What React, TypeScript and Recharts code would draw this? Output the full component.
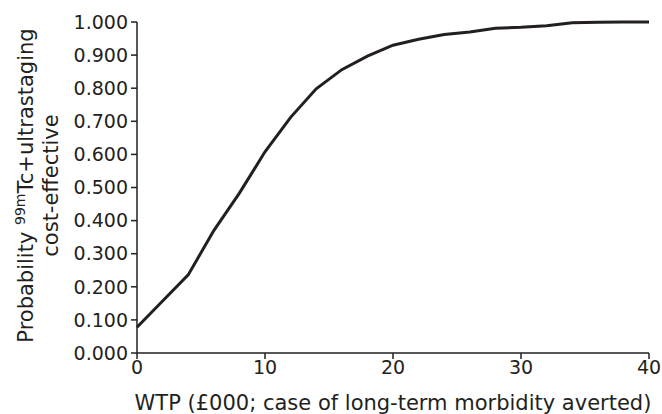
import { LineChart, Line, XAxis, YAxis } from 'recharts';

const wtp = [0, 2, 4, 6, 8, 10, 12, 14, 16, 18, 20, 22, 24, 26, 28, 30, 32, 34, 36, 38, 40];
const probability = [
  0.078, 0.157, 0.236, 0.37, 0.483, 0.608, 0.712, 0.798, 0.856, 0.897, 0.93,
  0.948, 0.962, 0.97, 0.981, 0.984, 0.989, 0.998, 0.999, 1.0, 1.0,
];
const xTicks = [0, 10, 20, 30, 40];
const yTicks = [0, 0.1, 0.2, 0.3, 0.4, 0.5, 0.6, 0.7, 0.8, 0.9, 1.0];

const data = wtp.map((x, i) => ({ x, p: probability[i] }));

const ink = '#231f20';
const font = '"DejaVu Sans", sans-serif';

function YLabel(props: any) {
  const vb = props.viewBox || {};
  const cy = vb.y + vb.height / 2 - 2;
  return (
    <g>
      <text
        transform={`translate(33, ${cy}) rotate(-90)`}
        textAnchor="middle"
        fontSize={21}
        fontFamily={font}
        fill={ink}
      >
        Probability <tspan fontSize={14} dy={-8}>99m</tspan>
        <tspan dy={8}>Tc+ultrastaging</tspan>
      </text>
      <text
        transform={`translate(58, ${cy}) rotate(-90)`}
        textAnchor="middle"
        fontSize={21}
        fontFamily={font}
        fill={ink}
      >
        cost-effective
      </text>
    </g>
  );
}

export default function App() {
  return (
    <div style={{ position: 'absolute', left: 0, top: 0, background: '#fff' }}>
      <LineChart width={662} height={414} data={data} margin={{ top: 22, right: 13, bottom: 0, left: 0 }}>
        <XAxis
          dataKey="x"
          type="number"
          domain={[0, 40]}
          ticks={xTicks}
          stroke={ink}
          strokeWidth={1.5}
          tickSize={6}
          tickMargin={2}
          height={61}
          tick={{ fill: ink, fontSize: 19, fontFamily: font }}
          label={{
            value: 'WTP (£000; case of long-term morbidity averted)',
            position: 'insideBottom',
            offset: 4,
            fill: ink,
            fontSize: 21,
            fontFamily: font,
          }}
        />
        <YAxis
          type="number"
          domain={[0, 1]}
          ticks={yTicks}
          tickFormatter={(v: number) => v.toFixed(3)}
          stroke={ink}
          strokeWidth={1.5}
          tickSize={6}
          tickMargin={3}
          width={137}
          interval={0}
          tick={{ fill: ink, fontSize: 19, fontFamily: font }}
          label={<YLabel />}
        />
        <Line
          type="linear"
          dataKey="p"
          stroke={ink}
          strokeWidth={3}
          dot={false}
          isAnimationActive={false}
        />
      </LineChart>
    </div>
  );
}
